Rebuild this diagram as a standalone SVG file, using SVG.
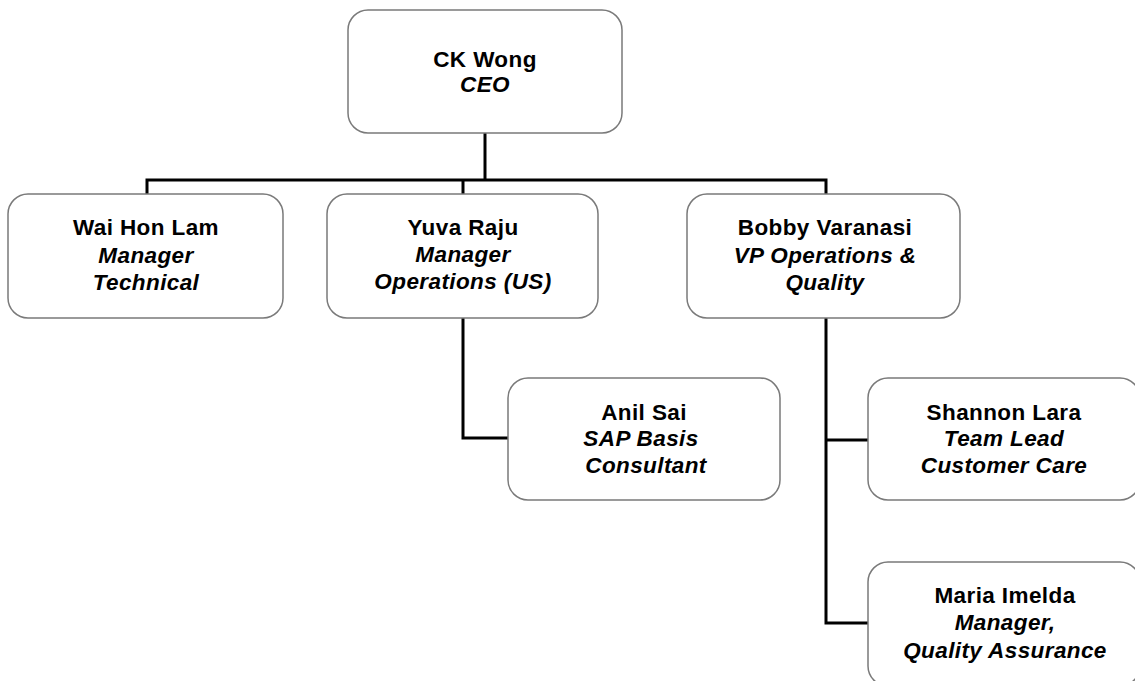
<svg xmlns="http://www.w3.org/2000/svg" width="1135" height="681" viewBox="0 0 1135 681">
<style>
.box{fill:#fff;stroke:#7a7a7a;stroke-width:1.5}
.ln{fill:none;stroke:#000;stroke-width:3;stroke-linejoin:miter}
text{font-family:"Liberation Sans",Arial,sans-serif;font-size:22.5px;font-weight:bold;text-anchor:middle;fill:#000;letter-spacing:0.4px}
.t{font-style:italic}
</style>
<rect width="1135" height="681" fill="#fff"/>
<g id="connectors">
<path class="ln" d="M485,133 V180"/>
<path class="ln" d="M147,194 V180 H826 V194"/>
<path class="ln" d="M463,180 V194"/>
<path class="ln" d="M463,318 V438 H508"/>
<path class="ln" d="M826,318 V623 H868"/>
<path class="ln" d="M826,440 H868"/>
</g>
<g id="ck-wong">
<rect class="box" x="348" y="10" width="274" height="123" rx="20"/>
<text x="485" y="67">CK Wong</text>
<text class="t" x="485" y="92">CEO</text>
</g>
<g id="wai-hon-lam">
<rect class="box" x="8" y="194" width="275" height="124" rx="20"/>
<text x="146" y="235">Wai Hon Lam</text>
<text class="t" x="146" y="263">Manager</text>
<text class="t" x="146" y="290">Technical</text>
</g>
<g id="yuva-raju">
<rect class="box" x="327" y="194" width="271" height="124" rx="20"/>
<text x="463" y="235">Yuva Raju</text>
<text class="t" x="463" y="262">Manager</text>
<text class="t" x="463" y="289">Operations (US)</text>
</g>
<g id="bobby-varanasi">
<rect class="box" x="687" y="194" width="273" height="124" rx="20"/>
<text x="825" y="235">Bobby Varanasi</text>
<text class="t" x="825" y="263">VP Operations &amp;</text>
<text class="t" x="825" y="290">Quality</text>
</g>
<g id="anil-sai">
<rect class="box" x="508" y="378" width="272" height="122" rx="20"/>
<text x="644" y="420">Anil Sai</text>
<text class="t" x="641" y="446">SAP Basis</text>
<text class="t" x="646" y="473">Consultant</text>
</g>
<g id="shannon-lara">
<rect class="box" x="868" y="378" width="272" height="122" rx="20"/>
<text x="1004" y="420">Shannon Lara</text>
<text class="t" x="1004" y="446">Team Lead</text>
<text class="t" x="1004" y="473">Customer Care</text>
</g>
<g id="maria-imelda">
<rect class="box" x="868" y="562" width="272" height="124" rx="20"/>
<text x="1005" y="603">Maria Imelda</text>
<text class="t" x="1005" y="630">Manager,</text>
<text class="t" x="1005" y="658">Quality Assurance</text>
</g>
</svg>
